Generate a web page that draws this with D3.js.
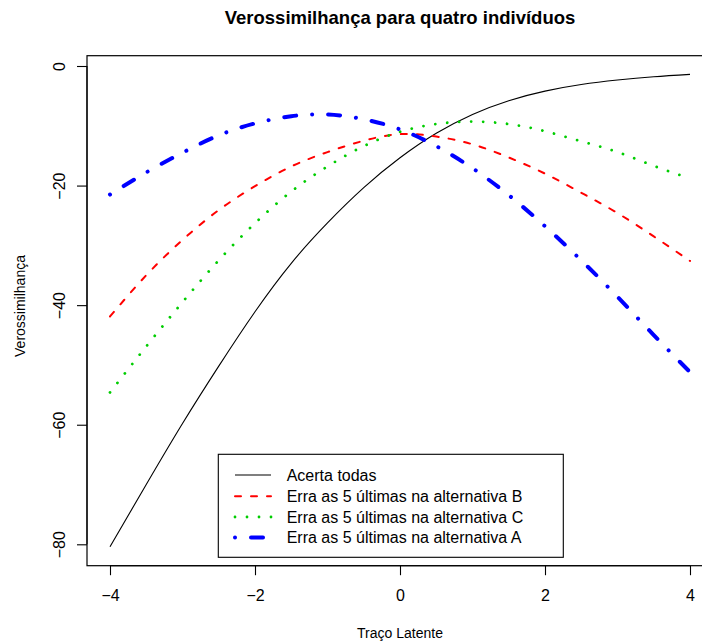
<!DOCTYPE html>
<html><head><meta charset="utf-8">
<script src="https://cdn.jsdelivr.net/npm/d3@7"></script>
<style>body{margin:0;background:#fff}text{font-family:"Liberation Sans",Arial,Helvetica,sans-serif}</style>
</head><body><svg id="c" width="702" height="643"></svg>
<script>
const theta = [-4,-3.5,-3,-2.5,-2,-1.5,-1,-0.5,0,0.5,1,1.5,2,2.5,3,3.5,4];
const acertaTodas = [-80.4,-70.0,-59.8,-50.2,-41.1,-33.0,-26.25,-20.35,-15.35,-11.25,-8.1,-5.8,-4.2,-3.1,-2.35,-1.8,-1.4];
const erraB = [-41.9,-35.0,-29.1,-24.1,-20.1,-16.8,-14.4,-12.5,-11.4,-11.8,-13.1,-15.3,-18.0,-21.2,-24.6,-28.5,-32.6];
const erraC = [-54.6,-46.9,-39.5,-32.5,-26.3,-21.0,-16.8,-13.4,-11.0,-9.7,-9.3,-9.7,-10.9,-12.6,-14.4,-16.7,-18.8];
const erraA = [-21.5,-17.8,-14.5,-11.6,-9.6,-8.4,-8.1,-8.9,-10.6,-13.4,-17.1,-21.6,-26.8,-32.5,-38.6,-45.0,-51.2];
const xTicks = [-4,-2,0,2,4];
const yTicks = [0,-20,-40,-60,-80];
const seriesNames = ["Acerta todas","Erra as 5 últimas na alternativa B","Erra as 5 últimas na alternativa C","Erra as 5 últimas na alternativa A"];
const title = "Verossimilhança para quatro indivíduos";
const xLabel = "Traço Latente", yLabel = "Verossimilhança";

const styles = [
  {color:"#000000", w:1.1, dash:null, cap:"butt"},
  {color:"#ff0000", w:2, dash:"6 10", cap:"round"},
  {color:"#00cd00", w:2.8, dash:"0.01 11.99", cap:"round"},
  {color:"#0000ff", w:4, dash:"0.01 16 12 16", cap:"round"}
];
const series = [acertaTodas, erraB, erraC, erraA];

const svg = d3.select("#c");
const x = d3.scaleLinear().domain([-4,4]).range([110,690]);
const y = d3.scaleLinear().domain([0,-80]).range([66,544.3]);
const yTop = 55.7, yBot = 565.7;

// curves
const line = d3.line().x(d=>x(d[0])).y(d=>y(d[1])).curve(d3.curveNatural);
series.forEach((s,i)=>{
  const st = styles[i];
  svg.append("path").attr("d", line(theta.map((t,j)=>[t,s[j]])))
    .attr("fill","none").attr("stroke",st.color).attr("stroke-width",st.w)
    .attr("stroke-dasharray",st.dash).attr("stroke-linecap",st.cap);
});

// box
svg.append("rect").attr("x",87).attr("y",yTop).attr("width",713-87).attr("height",yBot-yTop)
  .attr("fill","none").attr("stroke","#000").attr("stroke-width",1.2);

// x axis
const gx = svg.append("g").attr("transform",`translate(0,${yBot})`)
  .call(d3.axisBottom(x).tickValues(xTicks).tickSize(9.5).tickPadding(14).tickFormat(d=>d<0?"\u2212"+Math.abs(d):d));
gx.select(".domain").attr("d",`M${x(-4)},0H${x(4)}`).attr("stroke-width",1.1);
gx.selectAll(".tick line").attr("stroke-width",1.1);
gx.selectAll("text").attr("font-size",16).attr("fill","#000").attr("font-family","Liberation Sans, Arial, sans-serif");

// y axis
const gy = svg.append("g").attr("transform",`translate(87,0)`)
  .call(d3.axisLeft(y).tickValues(yTicks).tickSize(10).tickFormat(d=>d<0?"\u2212"+Math.abs(d):d));
gy.select(".domain").attr("d",`M0,${y(0)}V${y(-80)}`).attr("stroke-width",1.1);
gy.selectAll(".tick line").attr("stroke-width",1.1);
gy.selectAll(".tick text").attr("font-size",16).attr("fill","#000")
  .attr("font-family","Liberation Sans, Arial, sans-serif")
  .attr("text-anchor","middle").attr("dy",null).attr("x",null)
  .attr("transform","translate(-28,0) rotate(-90)").attr("dy","0.35em");

// title and labels
svg.append("text").attr("x",400).attr("y",24).attr("text-anchor","middle")
  .attr("font-size",18.5).attr("font-weight","bold").text(title);
svg.append("text").attr("x",400).attr("y",638).attr("text-anchor","middle")
  .attr("font-size",14).text(xLabel);
svg.append("text").attr("transform","translate(25,306) rotate(-90)").attr("text-anchor","middle")
  .attr("font-size",14).text(yLabel);

// legend
const lg = svg.append("g");
lg.append("rect").attr("x",218.3).attr("y",454.3).attr("width",345).attr("height",103)
  .attr("fill","#fff").attr("stroke","#000").attr("stroke-width",1.1);
const rowY = [475,496.3,517,537.5];
seriesNames.forEach((n,i)=>{
  const st = styles[i];
  lg.append("line").attr("x1",235).attr("x2",271).attr("y1",rowY[i]).attr("y2",rowY[i])
    .attr("stroke",st.color).attr("stroke-width",st.w).attr("stroke-dasharray",st.dash).attr("stroke-linecap",st.cap);
  lg.append("text").attr("x",286.7).attr("y",rowY[i]).attr("dy","0.36em").attr("font-size",16).text(n);
});
</script></body></html>
